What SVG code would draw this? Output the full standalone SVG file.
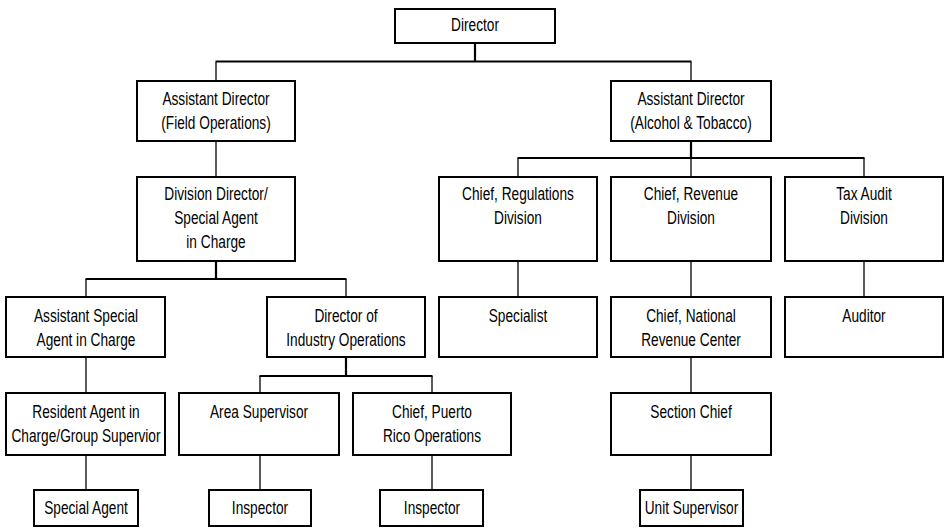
<svg xmlns="http://www.w3.org/2000/svg" width="946" height="528" viewBox="0 0 946 528">
<style>
.box{fill:#fff;stroke:#000;stroke-width:2}
.t{font-family:"Liberation Sans",Arial,sans-serif;font-size:18.5px;fill:#000;text-anchor:middle}
.c{stroke:#000;stroke-width:1.3;fill:none}
.k{stroke:#000;stroke-width:2.2;fill:none}
</style>
<rect width="946" height="528" fill="#fff"/>
<g id="connectors">
<line class="k" x1="475" y1="44" x2="475" y2="62"/>
<line class="k" x1="215.5" y1="61.5" x2="691.5" y2="61.5"/>
<line class="c" x1="216" y1="62" x2="216" y2="80"/>
<line class="c" x1="691" y1="62" x2="691" y2="80"/>
<line class="c" x1="216" y1="142" x2="216" y2="176"/>
<line class="k" x1="691" y1="142" x2="691" y2="158"/>
<line class="k" x1="517.5" y1="158" x2="864.5" y2="158"/>
<line class="c" x1="518" y1="158" x2="518" y2="176"/>
<line class="c" x1="691" y1="158" x2="691" y2="176"/>
<line class="c" x1="864" y1="158" x2="864" y2="176"/>
<line class="c" x1="518" y1="262" x2="518" y2="296"/>
<line class="c" x1="691" y1="262" x2="691" y2="296"/>
<line class="c" x1="864" y1="262" x2="864" y2="296"/>
<line class="c" x1="691" y1="358" x2="691" y2="392"/>
<line class="c" x1="691" y1="456" x2="691" y2="489"/>
<line class="k" x1="216" y1="262" x2="216" y2="279"/>
<line class="k" x1="85.5" y1="279" x2="346.5" y2="279"/>
<line class="c" x1="86" y1="279" x2="86" y2="296"/>
<line class="c" x1="346" y1="279" x2="346" y2="296"/>
<line class="c" x1="86" y1="358" x2="86" y2="392"/>
<line class="c" x1="86" y1="456" x2="86" y2="489"/>
<line class="k" x1="346" y1="358" x2="346" y2="376"/>
<line class="k" x1="259.5" y1="376" x2="432.5" y2="376"/>
<line class="c" x1="260" y1="376" x2="260" y2="392"/>
<line class="c" x1="432" y1="376" x2="432" y2="392"/>
<line class="c" x1="260" y1="456" x2="260" y2="489"/>
<line class="c" x1="432" y1="456" x2="432" y2="489"/>
</g>
<g id="director"><rect class="box" x="395" y="9" width="160" height="34"/><text class="t" transform="translate(475,31) scale(0.74,1)">Director</text></g>
<g id="ad-field"><rect class="box" x="137" y="81" width="158" height="60"/><text class="t" transform="translate(216,105) scale(0.74,1)"><tspan x="0">Assistant Director</tspan><tspan x="0" dy="24">(Field Operations)</tspan></text></g>
<g id="ad-alcohol"><rect class="box" x="611" y="81" width="160" height="60"/><text class="t" transform="translate(691,105) scale(0.74,1)"><tspan x="0">Assistant Director</tspan><tspan x="0" dy="24">(Alcohol &amp; Tobacco)</tspan></text></g>
<g id="division-director"><rect class="box" x="137" y="177" width="158" height="84"/><text class="t" transform="translate(216,200) scale(0.74,1)"><tspan x="0">Division Director/</tspan><tspan x="0" dy="24">Special Agent</tspan><tspan x="0" dy="24">in Charge</tspan></text></g>
<g id="chief-regulations"><rect class="box" x="439" y="177" width="158" height="84"/><text class="t" transform="translate(518,200) scale(0.74,1)"><tspan x="0">Chief, Regulations</tspan><tspan x="0" dy="24">Division</tspan></text></g>
<g id="chief-revenue"><rect class="box" x="611" y="177" width="160" height="84"/><text class="t" transform="translate(691,200) scale(0.74,1)"><tspan x="0">Chief, Revenue</tspan><tspan x="0" dy="24">Division</tspan></text></g>
<g id="tax-audit"><rect class="box" x="785" y="177" width="158" height="84"/><text class="t" transform="translate(864,200) scale(0.74,1)"><tspan x="0">Tax Audit</tspan><tspan x="0" dy="24">Division</tspan></text></g>
<g id="asac"><rect class="box" x="6" y="297" width="159" height="60"/><text class="t" transform="translate(86,322) scale(0.74,1)"><tspan x="0">Assistant Special</tspan><tspan x="0" dy="24">Agent in Charge</tspan></text></g>
<g id="dio"><rect class="box" x="267" y="297" width="158" height="60"/><text class="t" transform="translate(346,322) scale(0.74,1)"><tspan x="0">Director of</tspan><tspan x="0" dy="24">Industry Operations</tspan></text></g>
<g id="specialist"><rect class="box" x="439" y="297" width="158" height="60"/><text class="t" transform="translate(518,322) scale(0.74,1)">Specialist</text></g>
<g id="chief-nrc"><rect class="box" x="611" y="297" width="160" height="60"/><text class="t" transform="translate(691,322) scale(0.74,1)"><tspan x="0">Chief, National</tspan><tspan x="0" dy="24">Revenue Center</tspan></text></g>
<g id="auditor"><rect class="box" x="785" y="297" width="158" height="60"/><text class="t" transform="translate(864,322) scale(0.74,1)">Auditor</text></g>
<g id="resident-agent"><rect class="box" x="6" y="393" width="159" height="62"/><text class="t" transform="translate(86,418) scale(0.74,1)"><tspan x="0">Resident Agent in</tspan><tspan x="0" dy="24">Charge/Group Supervior</tspan></text></g>
<g id="area-supervisor"><rect class="box" x="179" y="393" width="160" height="62"/><text class="t" transform="translate(259,418) scale(0.74,1)">Area Supervisor</text></g>
<g id="chief-puerto-rico"><rect class="box" x="353" y="393" width="158" height="62"/><text class="t" transform="translate(432,418) scale(0.74,1)"><tspan x="0">Chief, Puerto</tspan><tspan x="0" dy="24">Rico Operations</tspan></text></g>
<g id="section-chief"><rect class="box" x="611" y="393" width="160" height="62"/><text class="t" transform="translate(691,418) scale(0.74,1)">Section Chief</text></g>
<g id="special-agent"><rect class="box" x="34" y="490" width="104" height="36"/><text class="t" transform="translate(86,514) scale(0.74,1)">Special Agent</text></g>
<g id="inspector-1"><rect class="box" x="209" y="490" width="102" height="36"/><text class="t" transform="translate(260,514) scale(0.74,1)">Inspector</text></g>
<g id="inspector-2"><rect class="box" x="380" y="490" width="103" height="36"/><text class="t" transform="translate(432,514) scale(0.74,1)">Inspector</text></g>
<g id="unit-supervisor"><rect class="box" x="640" y="490" width="103" height="36"/><text class="t" transform="translate(691.5,514) scale(0.74,1)">Unit Supervisor</text></g>
</svg>
